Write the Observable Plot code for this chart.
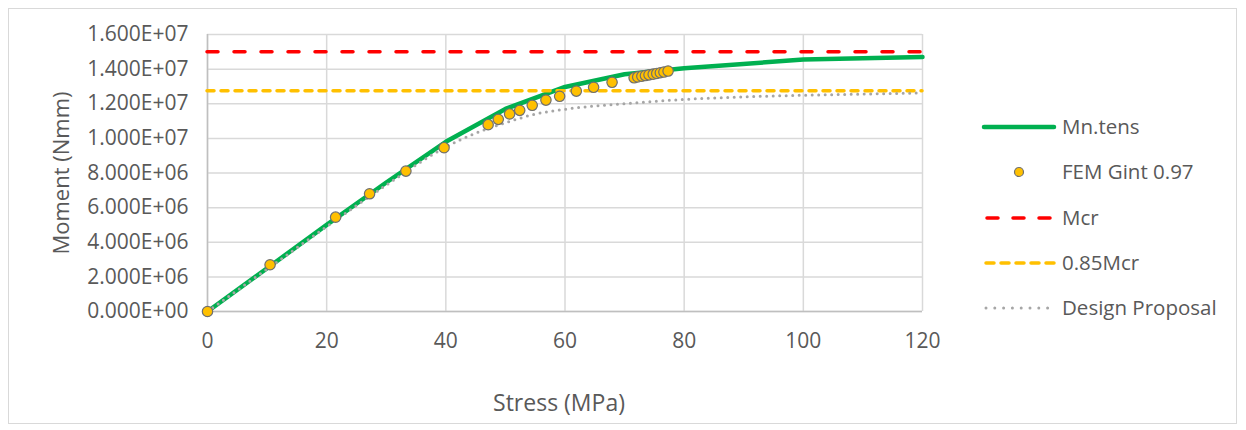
<!DOCTYPE html>
<html>
<head>
<meta charset="utf-8">
<script src="https://cdn.jsdelivr.net/npm/d3@7"></script>
<script src="https://cdn.jsdelivr.net/npm/@observablehq/plot@0.6"></script>
<style>
  html, body { margin: 0; padding: 0; background: #fff; }
  #wrap { position: relative; width: 1246px; height: 430px; font-family: "Open Sans", sans-serif; }
  #frame { position: absolute; left: 8px; top: 8px; width: 1229px; height: 416px; border: 1px solid #d9d9d9; box-sizing: border-box; pointer-events: none; }
  #legend { position: absolute; left: 0; top: 0; }
</style>
</head>
<body>
<div id="wrap"><div id="frame"></div></div>
<script>
// ---- Data ----
const xTicks = [0, 20, 40, 60, 80, 100, 120];
const xTickLabels = ["0", "20", "40", "60", "80", "100", "120"];
const yTicks = [0, 2e6, 4e6, 6e6, 8e6, 1e7, 1.2e7, 1.4e7, 1.6e7];
const yTickLabels = ["0.000E+00", "2.000E+06", "4.000E+06", "6.000E+06", "8.000E+06",
                     "1.000E+07", "1.200E+07", "1.400E+07", "1.600E+07"];

// Mn.tens
const mnStress = [0, 10, 20, 30, 40, 50, 60, 70, 80, 100, 120];
const mnMoment = [0, 2.5e6, 5.0e6, 7.45e6, 9.8e6, 1.17e7, 1.297e7, 1.37e7, 1.405e7, 1.455e7, 1.47e7];

// FEM Gint 0.97
const femStress = [0, 10.5, 21.5, 27.2, 33.3, 39.7, 47.1, 48.8, 50.7, 52.4, 54.5, 56.8, 59.1, 61.9, 64.8, 67.9,
                   71.6, 72.2, 72.9, 73.5, 74.1, 74.8, 75.4, 76.0, 76.6, 77.3];
const femMoment = [0, 2.70e6, 5.45e6, 6.80e6, 8.11e6, 9.46e6, 1.079e7, 1.110e7, 1.141e7, 1.162e7, 1.191e7, 1.221e7,
                   1.243e7, 1.273e7, 1.295e7, 1.324e7,
                   1.350e7, 1.355e7, 1.359e7, 1.363e7, 1.367e7, 1.371e7, 1.375e7, 1.379e7, 1.383e7, 1.389e7];

// Mcr and 0.85Mcr
const mcr = 1.5e7;
const mcr85 = 1.275e7;

// Design Proposal
const dpStress = [0, 10, 20, 30, 40, 45, 50, 55, 60, 65, 70, 80, 90, 100, 110, 120];
const dpMoment = [0, 2.45e6, 4.9e6, 7.3e6, 9.5e6, 1.03e7, 1.09e7, 1.14e7, 1.168e7, 1.187e7, 1.20e7, 1.225e7,
                  1.24e7, 1.249e7, 1.256e7, 1.262e7];

const legendItems = ["Mn.tens", "FEM Gint 0.97", "Mcr", "0.85Mcr", "Design Proposal"];

// ---- Build tables ----
const mn = mnStress.map((x, i) => ({x, y: mnMoment[i]}));
const fem = femStress.map((x, i) => ({x, y: femMoment[i]}));
const dp = dpStress.map((x, i) => ({x, y: dpMoment[i]}));

const textColor = "#595959";
const gridColor = "#d9d9d9";

const chart = Plot.plot({
  width: 1246,
  height: 430,
  marginLeft: 207,
  marginRight: 324,
  marginTop: 34,
  marginBottom: 119,
  style: {fontFamily: "'Open Sans', sans-serif", color: textColor, background: "transparent", overflow: "visible"},
  x: {domain: [0, 120]},
  y: {domain: [0, 1.6e7]},
  marks: [
    Plot.gridX(xTicks, {stroke: gridColor, strokeOpacity: 1, strokeWidth: 1.5}),
    Plot.gridY(yTicks, {stroke: gridColor, strokeOpacity: 1, strokeWidth: 1.5}),
    Plot.ruleX([0], {stroke: "#bfbfbf", strokeWidth: 1.5}),
    Plot.ruleY([0], {stroke: "#bfbfbf", strokeWidth: 1.5}),
    Plot.axisX({ticks: xTicks, tickFormat: (d, i) => xTickLabels[i], tickSize: 0, tickPadding: 22, fontSize: 21, label: null}),
    Plot.axisY({ticks: yTicks, tickFormat: (d, i) => yTickLabels[i], tickSize: 0, tickPadding: 19, fontSize: 21, label: null}),
    Plot.text(["Stress (MPa)"], {frameAnchor: "bottom", dx: -6, dy: 99, fontSize: 23, fill: textColor}),
    Plot.text(["Moment (Nmm)"], {frameAnchor: "left", textAnchor: "middle", dx: -146, rotate: -90, fontSize: 22, fill: textColor}),
    Plot.line(mn, {x: "x", y: "y", stroke: "#00b050", strokeWidth: 4.5, strokeLinejoin: "round"}),
    Plot.ruleY([mcr], {stroke: "#ff0000", strokeWidth: 3.5, strokeDasharray: "11,16", strokeLinecap: "round"}),
    Plot.ruleY([mcr85], {stroke: "#ffc000", strokeWidth: 3.5, strokeDasharray: "7,7", strokeLinecap: "round"}),
    Plot.line(dp, {x: "x", y: "y", stroke: "#a6a6a6", strokeWidth: 3, strokeDasharray: "0,6.5", strokeLinecap: "round", curve: "monotone-x"}),
    Plot.dot(fem, {x: "x", y: "y", r: 5.2, fill: "#ffc000", stroke: "#6f6f6f", strokeWidth: 1.2})
  ]
});
document.getElementById("wrap").appendChild(chart);

// ---- Legend ----
const legend = d3.select("#wrap").append("svg")
  .attr("id", "legend").attr("width", 1246).attr("height", 430)
  .style("font-family", "'Open Sans', sans-serif");
const ly = [127, 172, 218, 263, 308];
const x0 = 984, x1 = 1054;
const g = legend.selectAll("g").data(legendItems).join("g");
g.append("text").attr("x", 1062).attr("y", (d, i) => ly[i]).attr("dy", "0.35em")
  .attr("font-size", 20.5).attr("fill", textColor).text(d => d);
legend.append("line").attr("x1", x0).attr("x2", x1).attr("y1", ly[0]).attr("y2", ly[0])
  .attr("stroke", "#00b050").attr("stroke-width", 4.5).attr("stroke-linecap", "round");
legend.append("circle").attr("cx", 1019).attr("cy", ly[1]).attr("r", 4.5)
  .attr("fill", "#ffc000").attr("stroke", "#6f6f6f").attr("stroke-width", 1.2);
legend.append("line").attr("x1", x0 + 3).attr("x2", x1).attr("y1", ly[2]).attr("y2", ly[2])
  .attr("stroke", "#ff0000").attr("stroke-width", 3.5).attr("stroke-dasharray", "11,15").attr("stroke-linecap", "round");
legend.append("line").attr("x1", x0 + 2).attr("x2", x1).attr("y1", ly[3]).attr("y2", ly[3])
  .attr("stroke", "#ffc000").attr("stroke-width", 3.5).attr("stroke-dasharray", "8,7").attr("stroke-linecap", "round");
legend.append("line").attr("x1", x0 + 2).attr("x2", x1).attr("y1", ly[4]).attr("y2", ly[4])
  .attr("stroke", "#a6a6a6").attr("stroke-width", 3).attr("stroke-dasharray", "0,8.8").attr("stroke-linecap", "round");
</script>
</body>
</html>
